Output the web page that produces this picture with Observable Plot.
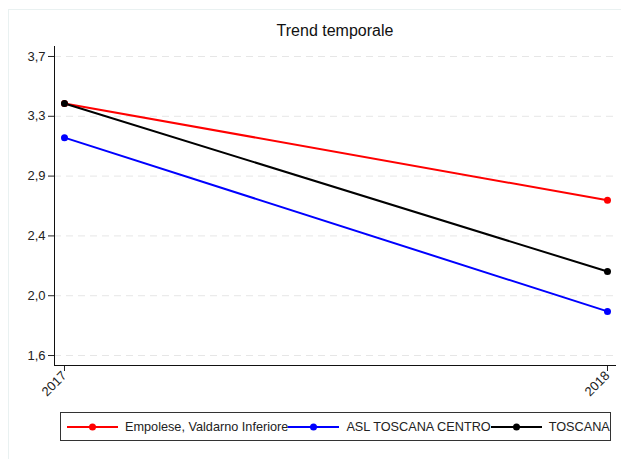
<!DOCTYPE html>
<html>
<head>
<meta charset="utf-8">
<script src="https://cdn.jsdelivr.net/npm/d3@7"></script>
<script src="https://cdn.jsdelivr.net/npm/@observablehq/plot@0.6"></script>
<style>
  html, body { margin: 0; padding: 0; background: #fff; }
  #wrap { position: relative; width: 621px; height: 459px; overflow: hidden; background: #fff;
          font-family: "Liberation Sans", Arial, Helvetica, sans-serif; color: #222; }
  #outer { position: absolute; left: 8px; top: 9px; width: 700px; height: 500px;
           border-left: 1px solid #e9f1f1; border-top: 1px solid #e9f1f1; pointer-events: none; }
  #title { position: relative; height: 40px; box-sizing: border-box; padding-top: 22px; line-height: 18px;
           font-size: 16px; text-align: center; padding-left: 49px; color: #111; }
  #chart svg { display: block; }
  #legend { position: absolute; left: 60px; top: 412px; width: 551px; height: 29px; box-sizing: border-box;
            border: 1px solid #333; display: flex; align-items: center; padding-left: 6px; font-size: 12.7px;
            white-space: nowrap; overflow: visible; }
  .sw { display: inline-block; width: 51px; height: 10px; margin-right: 7px; flex: none; }
  .lab { flex: none; }
</style>
</head>
<body>
<div id="wrap">
  <div id="outer"></div>
  <div id="title">Trend temporale</div>
  <div id="chart"></div>
  <div id="legend"></div>
</div>
<script>
const years = [2017, 2018];
const seriesNames = ["Empolese, Valdarno Inferiore", "ASL TOSCANA CENTRO", "TOSCANA"];
const empolese = [3.37, 2.69];
const aslCentro = [3.13, 1.91];
const toscana = [3.37, 2.19];
const seriesColors = ["#ff0000", "#0000ff", "#000000"];
const yTicks = [1.6, 2.02, 2.44, 2.86, 3.28, 3.7];
const xDomain = [2016.9816, 2018.0166];
const yDomain = [1.53, 3.77];

const seriesValues = [empolese, aslCentro, toscana];
const data = [];
seriesNames.forEach((name, i) => {
  years.forEach((yr, j) => data.push({series: name, year: yr, value: seriesValues[i][j]}));
});

const fmt = d => d.toFixed(1).replace(".", ",");

const chart = Plot.plot({
  width: 621,
  height: 360,
  marginLeft: 54,
  marginRight: 5,
  marginTop: 6,
  marginBottom: 35,
  style: {fontFamily: '"Liberation Sans", Arial, Helvetica, sans-serif', fontSize: "13px", color: "#222", background: "transparent"},
  x: {domain: xDomain},
  y: {domain: yDomain},
  color: {domain: seriesNames, range: seriesColors},
  marks: [
    Plot.gridY(yTicks, {stroke: "#e6e6e6", strokeOpacity: 1, strokeDasharray: "7,5"}),
    Plot.axisY(yTicks, {tickSize: 6, tickPadding: 3, tickFormat: fmt, fontSize: 13, label: null}),
    Plot.axisX(years, {tickSize: 6, tickPadding: 2, tickRotate: -45, tickFormat: d => String(d), fontSize: 13, label: null}),
    Plot.ruleX([xDomain[0]], {stroke: "#111"}),
    Plot.ruleY([yDomain[0]], {stroke: "#111"}),
    Plot.line(data, {x: "year", y: "value", z: "series", stroke: "series", strokeWidth: 2}),
    Plot.dot(data, {x: "year", y: "value", fill: "series", r: 3.5})
  ]
});
document.getElementById("chart").appendChild(chart);

const legend = document.getElementById("legend");
seriesNames.forEach((name, i) => {
  const sw = document.createElementNS("http://www.w3.org/2000/svg", "svg");
  sw.setAttribute("class", "sw");
  sw.setAttribute("width", 51);
  sw.setAttribute("height", 10);
  sw.innerHTML = `<line x1="0" x2="51" y1="5" y2="5" stroke="${seriesColors[i]}" stroke-width="2"/><circle cx="25.5" cy="5" r="3.5" fill="${seriesColors[i]}"/>`;
  legend.appendChild(sw);
  const lab = document.createElement("span");
  lab.className = "lab";
  lab.textContent = name;
  legend.appendChild(lab);
});
</script>
</body>
</html>
